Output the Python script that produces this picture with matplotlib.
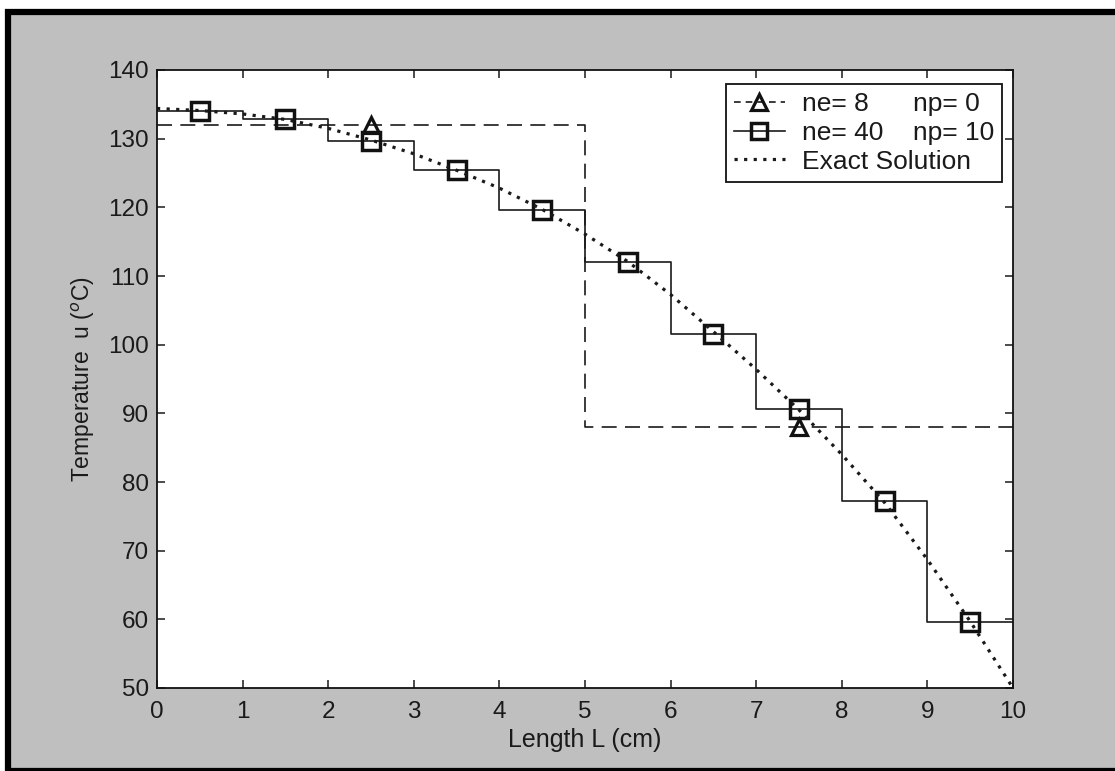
import numpy as np
import matplotlib.pyplot as plt
from matplotlib.lines import Line2D
from matplotlib.patches import Rectangle

plt.rcParams['font.family'] = ['Liberation Sans', 'DejaVu Sans']

# ne = 8 (coarse) piecewise constant solution
coarse_edges = [0, 5, 10]
coarse_vals = [132.0, 88.0]

# ne = 40, np = 10 piecewise constant solution
fine_edges = [0, 1, 2, 3, 4, 5, 6, 7, 8, 9, 10]
fine_vals = [134.0, 132.9, 129.6, 125.4, 119.6, 112.0, 101.5, 90.6, 77.2, 59.6]

# exact solution
exact_x = [0, 0.5, 1, 1.5, 2, 2.5, 3, 3.5, 4, 4.5, 5, 5.5, 6, 6.5, 7, 7.5, 8, 8.5, 9, 9.5, 10]
exact_u = [134.4, 134.1, 133.6, 132.8, 131.5, 129.8, 127.8, 125.4, 122.8, 119.7, 116.1,
           112.1, 107.3, 101.9, 96.4, 90.5, 84.0, 77.0, 68.7, 59.7, 50.0]


def step_xy(edges, vals):
    xs, ys = [], []
    for i, v in enumerate(vals):
        xs += [edges[i], edges[i + 1]]
        ys += [v, v]
    return xs, ys


def midpoints(edges):
    return [(edges[i] + edges[i + 1]) / 2 for i in range(len(edges) - 1)]


ink = '#1a1a1a'

fig = plt.figure(figsize=(11.15, 7.71), dpi=100, facecolor='white')
fig.add_artist(Rectangle((8 / 1115, 0), 1.2, 1 - 12 / 771, transform=fig.transFigure,
                         facecolor='#bfbfbf', edgecolor='black', lw=4.5, zorder=0))

ax = fig.add_axes([157 / 1115, 1 - 688 / 771, 856 / 1115, 618 / 771])
ax.set_facecolor('white')

cx, cy = step_xy(coarse_edges, coarse_vals)
ax.plot(cx, cy, color=ink, lw=1.2, ls=(0, (9, 5)))
ax.plot(midpoints(coarse_edges), coarse_vals, ls='none', marker='^', ms=12,
        mfc='none', mec='#111111', mew=2.3)

fx, fy = step_xy(fine_edges, fine_vals)
ax.plot(fx, fy, color=ink, lw=1.2)
ax.plot(midpoints(fine_edges), fine_vals, ls='none', marker='s', ms=13,
        mfc='none', mec='#111111', mew=2.5)

ax.plot(exact_x, exact_u, color=ink, lw=2.3, ls=(0, (1, 2)))

ax.set_xlim(0, 10)
ax.set_ylim(50, 140)
ax.set_xticks(range(0, 11))
ax.set_yticks(range(50, 141, 10))
ax.tick_params(direction='in', top=True, right=True, length=6, width=1.1,
               labelsize=17.5, pad=6, colors=ink)
ax.tick_params(axis='x', pad=9)
for s in ax.spines.values():
    s.set_linewidth(1.3)
    s.set_color('#111111')

ax.set_xlabel('Length L (cm)', fontsize=18, color=ink, labelpad=4)
ax.set_ylabel('Temperature  u ($^o$C)', fontsize=16.5, color=ink, labelpad=8)

handles = [
    Line2D([], [], color=ink, lw=1.2, ls=(0, (4, 3)), marker='^', ms=11,
           mfc='none', mec='#111111', mew=2.3),
    Line2D([], [], color=ink, lw=1.2, marker='s', ms=11,
           mfc='none', mec='#111111', mew=2.5),
    Line2D([], [], color=ink, lw=2.3, ls=(0, (1, 2))),
]
labels = ['ne= 8      np= 0', 'ne= 40    np= 10', 'Exact Solution']
leg = ax.legend(handles, labels, loc='upper right', bbox_to_anchor=(0.987, 0.977),
                borderaxespad=0, fontsize=19, fancybox=False, framealpha=1,
                edgecolor='#111111', handlelength=1.9, handletextpad=0.65,
                labelspacing=0.18, borderpad=0.3)
leg.get_frame().set_linewidth(1.3)
for t in leg.get_texts():
    t.set_color(ink)

fig.savefig('out.png', dpi=100, facecolor=fig.get_facecolor())
